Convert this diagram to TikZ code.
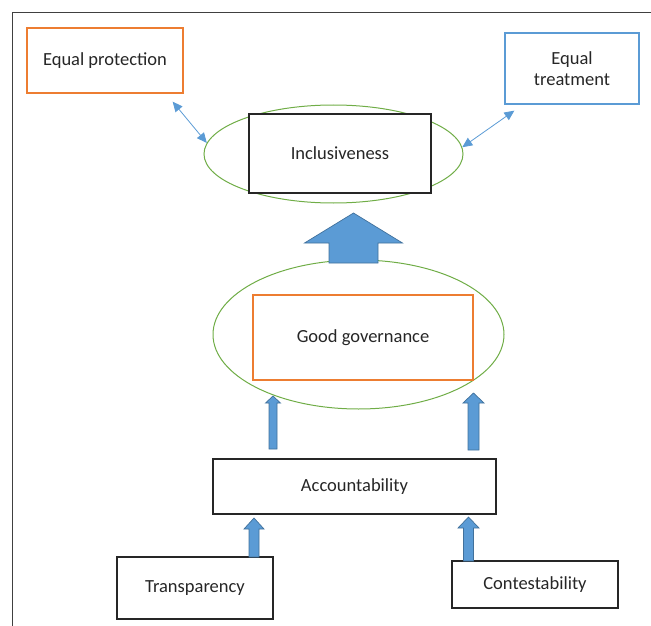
\documentclass[tikz,border=0pt]{standalone}
\usepackage{fontspec}
\setmainfont{Carlito}
\usetikzlibrary{shapes.geometric,arrows.meta,calc}

\definecolor{orangeline}{HTML}{ED7D31}
\definecolor{blueline}{HTML}{5B9BD5}
\definecolor{greenline}{HTML}{70AD47}
\definecolor{arrowfill}{HTML}{5B9BD5}
\definecolor{arrowedge}{HTML}{41719C}
\definecolor{inkgray}{HTML}{262626}
\definecolor{framegray}{HTML}{404040}

% upward block arrow: x centre, y of tail, y of tip, y of head base, half shaft width, half head width
\newcommand\blockup[6]{%
  \draw[blockarrow] (#1-#5,#2) -- (#1-#5,#4) -- (#1-#6,#4) -- (#1,#3)
    -- (#1+#6,#4) -- (#1+#5,#4) -- (#1+#5,#2) -- cycle;}

\tikzset{
  box/.style={draw, rectangle, line width=1.3pt, text=inkgray,
    inner sep=0pt, font=\fontsize{18.5}{22}\selectfont, align=center},
  blackbox/.style={box, draw=inkgray},
  orangebox/.style={box, draw=orangeline},
  bluebox/.style={box, draw=blueline},
  ring/.style={draw=greenline, ellipse, line width=1pt, inner sep=0pt},
  link/.style={draw=blueline, line width=0.8pt,
    {Triangle[length=10pt,width=9pt]}-{Triangle[length=10pt,width=9pt]}},
  blockarrow/.style={fill=arrowfill, draw=arrowedge, line width=0.7pt, line join=miter},
}

\begin{document}
\begin{tikzpicture}[x=1pt,y=-1pt]
\useasboundingbox (0,0) rectangle (651,626);

% frame edges
\draw[framegray, line width=1pt] (12,626) -- (12,13) -- (651,13);

% ellipses
\node[ring, minimum width=259, minimum height=98] (inclEll) at (333.5,154) {};
\node[ring, minimum width=291, minimum height=149] (ggEll) at (358.5,334.5) {};

% boxes
\node[orangebox, minimum width=156, minimum height=65] (eqprot) at (105,60.5) {Equal protection};
\node[bluebox, minimum width=134, minimum height=71] (eqtreat) at (572,68.5) {Equal\\[-1pt]treatment};
\node[blackbox, fill=white, minimum width=182, minimum height=79] (incl) at (340,153.5) {Inclusiveness};
\node[orangebox, minimum width=220, minimum height=85] (gg) at (363,337.5) {Good governance};
\node[blackbox, minimum width=283, minimum height=55] (acc) at (354.5,486.5) {Accountability};
\node[blackbox, minimum width=156, minimum height=62] (transp) at (195,588) {Transparency};
\node[blackbox, minimum width=166, minimum height=47] (contest) at (535,584.5) {Contestability};

% two-way links to the inclusiveness ring
\draw[link] ($(eqprot.south east)+(-11,8)$) -- (inclEll.175);
\draw[link] (inclEll.3) -- ($(eqtreat.south west)+(10,6)$);

% block arrows
\blockup{353.5}{263}{213}{243}{24.5}{49}
\blockup{273}{449}{396}{403}{4}{7.5}
\blockup{473.5}{450}{393}{403}{5.5}{10.5}
\blockup{254}{557}{518}{529}{5}{10}
\blockup{468.5}{561}{517}{528}{5}{10.5}
\end{tikzpicture}
\end{document}
